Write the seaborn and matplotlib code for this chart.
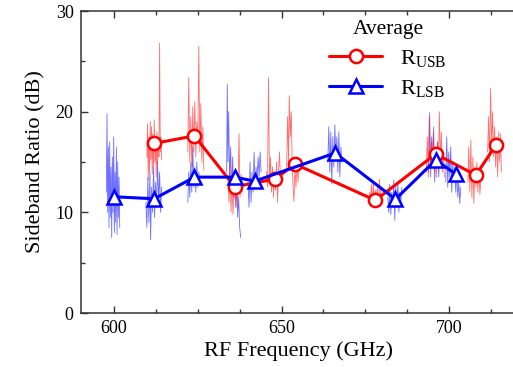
import pandas as pd
import matplotlib
matplotlib.use("Agg")
import matplotlib.pyplot as plt
from matplotlib.ticker import MultipleLocator
import seaborn as sns

# averaged sideband ratios
usb_freq = [612, 624, 636, 648, 654, 678, 696, 708, 714]
usb_db = [16.85, 17.6, 12.55, 13.3, 14.8, 11.2, 15.8, 13.7, 16.7]
lsb_freq = [600, 612, 624, 636, 642, 666, 684, 696, 702]
lsb_db = [11.55, 11.35, 13.5, 13.5, 13.1, 15.9, 11.3, 15.2, 13.8]

# measured traces, one sub-list per LO setting
usb_trace_freq = [
    [609.8, 610.0, 610.2, 610.4, 610.6, 610.8, 611.0, 611.2, 611.4, 611.6, 611.8, 612.0,
     612.2, 612.4, 612.6, 612.8, 613.0, 613.2, 613.4, 613.6, 613.8, 614.0, 614.2],
    [622.0, 622.3, 622.6, 622.9, 623.2, 623.5, 623.8, 624.1, 624.4, 624.7, 625.0, 625.3,
     625.6, 625.9, 626.2, 626.5, 626.8],
    [634.0, 634.3, 634.6, 634.9, 635.2, 635.5, 635.8, 636.1, 636.4, 636.7, 637.0, 637.3,
     637.6, 637.9, 638.2],
    [645.5, 645.8, 646.1, 646.4, 646.7, 647.0, 647.3, 647.6, 647.9, 648.2, 648.5, 648.8,
     649.1, 649.4, 649.7],
    [651.5, 651.8, 652.1, 652.3, 652.6, 652.9, 653.2, 653.5, 653.7, 654.0, 654.3, 654.6,
     654.9, 655.2],
    [676.2, 676.5, 676.8, 677.1, 677.4, 677.7, 678.0, 678.3, 678.6, 678.9, 679.2, 679.5,
     679.8],
    [693.2, 693.5, 693.8, 694.1, 694.4, 694.7, 695.0, 695.3, 695.6, 695.9, 696.2, 696.5,
     696.8, 697.1, 697.4, 697.7, 698.0, 698.3, 698.6],
    [705.6, 705.9, 706.2, 706.5, 706.8, 707.1, 707.4, 707.7, 708.0, 708.3, 708.6, 708.9,
     709.2, 709.5],
    [711.5, 711.8, 712.1, 712.4, 712.7, 713.0, 713.3, 713.6, 713.9, 714.2, 714.5, 714.8,
     715.1, 715.4, 715.6],
]
usb_trace_db = [
    [15.5, 18.8, 13.2, 17.5, 14.0, 19.0, 15.2, 18.5, 13.8, 17.8, 14.5, 19.2,
     15.0, 16.8, 13.5, 18.0, 14.8, 17.2, 15.5, 26.8, 16.0, 17.5, 15.2],
    [16.0, 23.4, 15.0, 19.5, 14.5, 20.5, 16.0, 21.0, 15.5, 19.0, 17.0, 26.5,
     16.0, 20.8, 15.0, 18.5, 14.2],
    [13.5, 11.0, 14.8, 10.0, 13.2, 9.8, 12.8, 11.2, 14.0, 10.5, 12.5, 17.8,
     11.5, 13.8, 12.0],
    [14.0, 12.5, 23.4, 13.0, 15.5, 12.0, 14.5, 11.5, 13.8, 12.2, 15.0, 11.0,
     14.2, 16.0, 12.8],
    [14.0, 19.5, 15.0, 21.6, 17.5, 20.0, 14.5, 12.0, 11.1, 14.5, 12.5, 15.5,
     13.0, 14.8],
    [12.0, 10.8, 12.8, 11.0, 13.0, 10.5, 12.2, 11.0, 12.5, 10.8, 13.3, 11.5,
     12.5],
    [14.0, 17.5, 13.5, 19.5, 14.5, 17.0, 15.0, 18.0, 14.0, 16.5, 13.5, 17.0,
     14.5, 20.0, 15.0, 18.0, 14.0, 16.0, 13.5],
    [13.0, 16.5, 12.0, 17.2, 11.5, 15.5, 10.9, 14.5, 12.5, 15.0, 12.0, 14.2,
     11.8, 13.5],
    [16.0, 19.5, 15.0, 22.3, 16.5, 20.0, 15.5, 18.5, 14.5, 17.5, 13.5, 18.0,
     15.0, 17.8, 14.0],
]
lsb_trace_freq = [
    [597.7, 597.9, 598.1, 598.3, 598.5, 598.7, 598.9, 599.1, 599.3, 599.5, 599.7, 599.9,
     600.1, 600.3, 600.5, 600.7, 600.9, 601.1, 601.3, 601.5, 601.7],
    [609.5, 609.8, 610.1, 610.4, 610.7, 610.9, 611.2, 611.5, 611.8, 612.1, 612.4, 612.7,
     613.0, 613.3, 613.6, 613.9, 614.2],
    [622.0, 622.3, 622.6, 622.9, 623.2, 623.5, 623.8, 624.1, 624.4, 624.7, 625.0, 625.3,
     625.6],
    [633.6, 633.8, 634.0, 634.2, 634.5, 634.8, 635.1, 635.4, 635.7, 636.0, 636.3, 636.6,
     636.9, 637.2, 637.5, 637.8],
    [640.0, 640.3, 640.6, 640.9, 641.2, 641.5, 641.8, 642.1, 642.4, 642.7, 643.0, 643.3,
     643.6, 643.9],
    [663.8, 664.1, 664.4, 664.7, 665.0, 665.3, 665.6, 665.9, 666.2, 666.5, 666.8, 667.1,
     667.4, 667.7, 668.0],
    [681.7, 682.0, 682.3, 682.6, 682.9, 683.2, 683.5, 683.8, 684.1, 684.4, 684.7, 685.0,
     685.3, 685.6, 685.9],
    [693.9, 694.2, 694.5, 694.8, 695.1, 695.4, 695.7, 696.0, 696.3, 696.6, 696.9, 697.2,
     697.5],
    [699.0, 699.3, 699.6, 699.9, 700.2, 700.5, 700.8, 701.1, 701.4, 701.7, 702.0, 702.3,
     702.6, 702.9, 703.2, 703.5],
]
lsb_trace_db = [
    [12.0, 19.8, 10.0, 16.5, 8.5, 17.0, 9.5, 14.5, 7.5, 15.5, 10.0, 17.5,
     8.0, 14.0, 9.0, 16.5, 7.8, 15.0, 9.5, 13.5, 8.5],
    [11.0, 8.5, 13.5, 9.0, 14.0, 7.3, 12.5, 10.0, 14.5, 9.5, 13.0, 10.5,
     15.0, 11.0, 14.0, 10.0, 12.5],
    [11.0, 14.0, 11.5, 15.0, 12.0, 16.5, 12.5, 14.5, 12.0, 15.0, 12.5, 14.0,
     13.0],
    [14.0, 22.7, 15.0, 20.0, 13.5, 16.5, 12.0, 15.5, 11.5, 14.0, 10.5, 13.0,
     9.5, 11.5, 8.5, 7.5],
    [13.0, 10.5, 15.0, 11.0, 14.0, 12.0, 16.0, 12.5, 14.5, 13.0, 15.5, 13.5,
     16.0, 14.0],
    [15.0, 18.5, 14.0, 18.0, 12.8, 17.5, 14.5, 18.7, 15.5, 17.5, 14.0, 18.0,
     13.5, 16.5, 15.0],
    [11.5, 10.0, 12.8, 9.8, 12.0, 10.5, 13.2, 9.2, 12.5, 10.5, 13.0, 10.0,
     12.0, 11.0, 12.5],
    [14.0, 19.9, 13.5, 17.5, 14.5, 18.5, 13.0, 16.5, 14.5, 17.0, 13.5, 16.0,
     15.0],
    [13.0, 17.5, 12.5, 16.0, 13.5, 16.5, 12.0, 15.0, 13.0, 14.5, 12.0, 14.0,
     11.5, 13.0, 10.9, 12.5],
]


def trace_frame(freqs, dbs):
    rows = []
    for k, (fs, ds) in enumerate(zip(freqs, dbs)):
        for f, d in zip(fs, ds):
            rows.append({"freq": f, "db": d, "seg": k})
    return pd.DataFrame(rows)


usb_trace = trace_frame(usb_trace_freq, usb_trace_db)
lsb_trace = trace_frame(lsb_trace_freq, lsb_trace_db)
usb_avg = pd.DataFrame({"freq": usb_freq, "db": usb_db})
lsb_avg = pd.DataFrame({"freq": lsb_freq, "db": lsb_db})

sns.set_theme(style="ticks")
plt.rcParams["font.family"] = ["Liberation Serif", "DejaVu Serif"]
plt.rcParams["mathtext.fontset"] = "custom"
plt.rcParams["mathtext.rm"] = "Liberation Serif"
plt.rcParams["mathtext.it"] = "Liberation Serif:italic"
plt.rcParams["text.color"] = "black"
plt.rcParams["axes.labelcolor"] = "black"

fig = plt.figure(figsize=(5.13, 3.67), dpi=100)
ax = fig.add_axes([0.157, 0.147, 0.849, 0.823])

sns.lineplot(data=lsb_trace, x="freq", y="db", units="seg", estimator=None, sort=False,
             color="#2020ff", lw=0.6, alpha=0.65, ax=ax, legend=False)
sns.lineplot(data=usb_trace, x="freq", y="db", units="seg", estimator=None, sort=False,
             color="#ff2020", lw=0.6, alpha=0.65, ax=ax, legend=False)

sns.lineplot(data=usb_avg, x="freq", y="db", color="red", lw=2.2, marker="o",
             markersize=9.5, markerfacecolor="white", markeredgecolor="red",
             markeredgewidth=1.8, ax=ax, label="R$_{\\rm USB}$")
sns.lineplot(data=lsb_avg, x="freq", y="db", color="blue", lw=2.2, marker="^",
             markersize=10.5, markerfacecolor="white", markeredgecolor="blue",
             markeredgewidth=1.8, ax=ax, label="R$_{\\rm LSB}$")

ax.set_xlim(590, 720)
ax.set_ylim(0, 30)
ax.xaxis.set_major_locator(MultipleLocator(50))
ax.xaxis.set_minor_locator(MultipleLocator(12.5))
ax.yaxis.set_major_locator(MultipleLocator(10))
ax.yaxis.set_minor_locator(MultipleLocator(5))
ax.tick_params(which="both", direction="in", top=True, right=False, labelsize=13,
               colors="#333333", labelcolor="black")
ax.tick_params(which="major", length=5, width=1, pad=5)
ax.tick_params(which="minor", length=3, width=1)
for s in ax.spines.values():
    s.set_linewidth(1.1)
    s.set_color("#333333")

ax.set_xlabel("RF Frequency (GHz)", fontsize=16, labelpad=3)
ax.set_ylabel("Sideband Ratio (dB)", fontsize=16, labelpad=7)

leg = ax.legend(title="Average", loc="upper left", bbox_to_anchor=(0.54, 1.015),
                frameon=False, fontsize=16, title_fontsize=15.5, handlelength=2.4,
                labelspacing=0.4, borderaxespad=0.2)

fig.savefig("out.png", dpi=100)
